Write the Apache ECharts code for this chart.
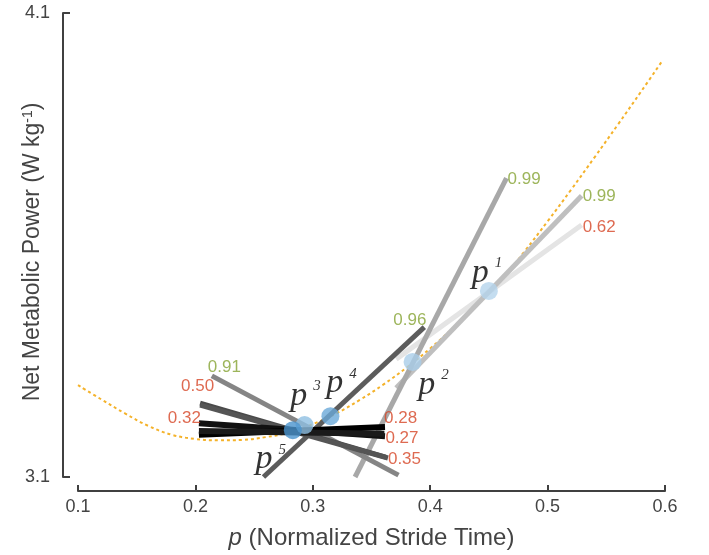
<!DOCTYPE html>
<html>
<head>
<meta charset="utf-8">
<script src="https://cdn.jsdelivr.net/npm/echarts@6/dist/echarts.min.js"></script>
<style>
  html, body { margin: 0; padding: 0; background: #fff; }
  #chart { width: 709px; height: 555px; }
</style>
</head>
<body>
<div id="chart"></div>
<script>
// axis ranges
const xRange = [0.1, 0.6];
const yRange = [3.1, 4.1];

// dashed cost curve
const curveX = [0.10, 0.12, 0.14, 0.16, 0.18, 0.20, 0.22, 0.24, 0.26, 0.28, 0.30, 0.32, 0.34,
  0.36, 0.38, 0.40, 0.42, 0.44, 0.46, 0.48, 0.50, 0.52, 0.54, 0.56, 0.58, 0.598];
const curveY = [3.298, 3.267, 3.237, 3.210, 3.191, 3.182, 3.179, 3.180, 3.186, 3.196, 3.214, 3.237, 3.266,
  3.299, 3.336, 3.377, 3.422, 3.471, 3.522, 3.585, 3.651, 3.719, 3.789, 3.860, 3.932, 3.998];

// measured points p1..p5
const pointNames = ['1', '2', '3', '4', '5'];
const pointX = [0.450, 0.385, 0.293, 0.315, 0.283];
const pointY = [3.501, 3.348, 3.212, 3.231, 3.201];

// gradient segments (labelled at the end point), back to front
const segStartX = [0.371, 0.371, 0.336, 0.258, 0.373, 0.362, 0.204, 0.3615, 0.203, 0.203];
const segStartY = [3.354, 3.292, 3.100, 3.100, 3.104, 3.143, 3.255, 3.188, 3.191, 3.199];
const segEndX   = [0.529, 0.529, 0.465, 0.395, 0.214, 0.204, 0.364, 0.203, 0.3615, 0.361];
const segEndY   = [3.643, 3.706, 3.744, 3.423, 3.318, 3.259, 3.141, 3.216, 3.208, 3.193];
const segValues = ['0.62', '0.99', '0.99', '0.96', '0.91', '0.50', '0.35', '0.32', '0.28', '0.27'];
const segGood   = [false, true, true, true, true, false, false, false, false, false];

// styles
const segColors = ['#e4e4e4', '#bfbfbf', '#a8a8a8', '#5c5c5c', '#858585', '#4a4a4a', '#555555', '#111111', '#000000', '#1a1a1a'];
const segWidths = [5, 5, 5, 5, 5, 5, 5, 6, 6, 6];
// [align, dx, dy] for each value label
const segLabelPos = [
  ['left', 1, 2], ['left', 1, 0], ['left', 1, 1], ['right', 2, -7], ['left', -4, -9],
  ['right', 14, -17], ['left', 0, 1], ['right', 2, -5], ['left', -1, -9], ['left', 1, 4]
];
const pointColors = ['#b5d5ec', '#a9cde9', '#8ebfe2', '#6aa9d8', '#4a94cd'];
const pointLabelOffset = [[-2, -18], [21, 23], [1, -29], [11, -33], [-22, 29]];

const GREEN = '#84a232';
const RED = '#d64526';
const AXIS = '#404040';
const FONT = '"Liberation Sans", Arial, Helvetica, sans-serif';
const SERIF = '"Liberation Serif", "DejaVu Serif", serif';

const chart = echarts.init(document.getElementById('chart'));

const segSeries = segValues.map((v, i) => ({
  type: 'line',
  data: [[segStartX[i], segStartY[i]], [segEndX[i], segEndY[i]]],
  symbol: 'none',
  silent: true,
  z: 3,
  lineStyle: { color: segColors[i], width: segWidths[i], cap: 'butt' }
}));

const option = {
  animation: false,
  backgroundColor: '#fff',
  textStyle: { fontFamily: FONT },
  grid: { left: 78, right: 44, top: 13, bottom: 78, containLabel: false, outerBoundsMode: 'none' },
  xAxis: {
    type: 'value',
    min: xRange[0],
    max: xRange[1],
    interval: 0.1,
    offset: 14,
    axisLine: { show: true, lineStyle: { color: AXIS, width: 2 } },
    axisTick: { show: true, inside: true, length: 6, lineStyle: { color: AXIS, width: 2 } },
    axisLabel: { color: '#444', fontSize: 18, margin: 7, fontFamily: FONT, formatter: v => v.toFixed(1) },
    splitLine: { show: false },
    name: '{i|p} (Normalized Stride Time)',
    nameLocation: 'middle',
    nameGap: 35,
    nameMoveOverlap: false,
    nameTextStyle: {
      color: '#444', fontSize: 24, fontFamily: FONT,
      rich: { i: { color: '#444', fontSize: 24, fontStyle: 'italic', fontFamily: FONT } }
    }
  },
  yAxis: {
    type: 'value',
    min: yRange[0],
    max: yRange[1],
    interval: 1,
    offset: 15,
    axisLine: { show: true, lineStyle: { color: AXIS, width: 2 } },
    axisTick: { show: true, inside: true, length: 7, lineStyle: { color: AXIS, width: 2 } },
    axisLabel: { color: '#444', fontSize: 18, margin: 13, fontFamily: FONT, formatter: v => v.toFixed(1) },
    splitLine: { show: false },
    name: 'Net Metabolic Power (W kg{s|-1})',
    nameLocation: 'middle',
    nameGap: 19,
    nameMoveOverlap: false,
    nameTextStyle: {
      color: '#444', fontSize: 23, fontFamily: FONT, padding: [0, 14, 0, 0],
      rich: { s: { color: '#444', fontSize: 14, verticalAlign: 'top', fontFamily: FONT } }
    }
  },
  series: [
    {
      type: 'line',
      data: curveX.map((x, i) => [x, curveY[i]]),
      symbol: 'none',
      smooth: 0.4,
      silent: true,
      z: 2,
      lineStyle: { color: '#f4b22a', width: 2, type: [3, 3] }
    },
    ...segSeries,
    {
      type: 'scatter',
      silent: true,
      z: 4,
      symbolSize: 1,
      itemStyle: { color: 'rgba(0,0,0,0)' },
      data: segValues.map((v, i) => ({
        value: [segEndX[i], segEndY[i]],
        label: {
          show: true,
          formatter: v,
          position: 'inside',
          align: segLabelPos[i][0],
          verticalAlign: 'middle',
          offset: [segLabelPos[i][1], segLabelPos[i][2]],
          color: segGood[i] ? GREEN : RED,
          fontSize: 17,
          fontFamily: FONT
        }
      }))
    },
    {
      type: 'scatter',
      silent: true,
      z: 5,
      symbolSize: 18,
      data: pointNames.map((n, i) => ({
        value: [pointX[i], pointY[i]],
        itemStyle: { color: pointColors[i] },
        label: {
          show: true,
          position: 'inside',
          offset: pointLabelOffset[i],
          formatter: '{p|p}{s|' + n + '}'
        }
      })),
      label: {
        rich: {
          p: { fontFamily: SERIF, fontStyle: 'italic', fontSize: 34, color: '#000' },
          s: { fontFamily: SERIF, fontStyle: 'italic', fontSize: 15, color: '#000', verticalAlign: 'top', padding: [0, 0, 0, 6] }
        }
      }
    }
  ]
};

chart.setOption(option);
</script>
</body>
</html>
